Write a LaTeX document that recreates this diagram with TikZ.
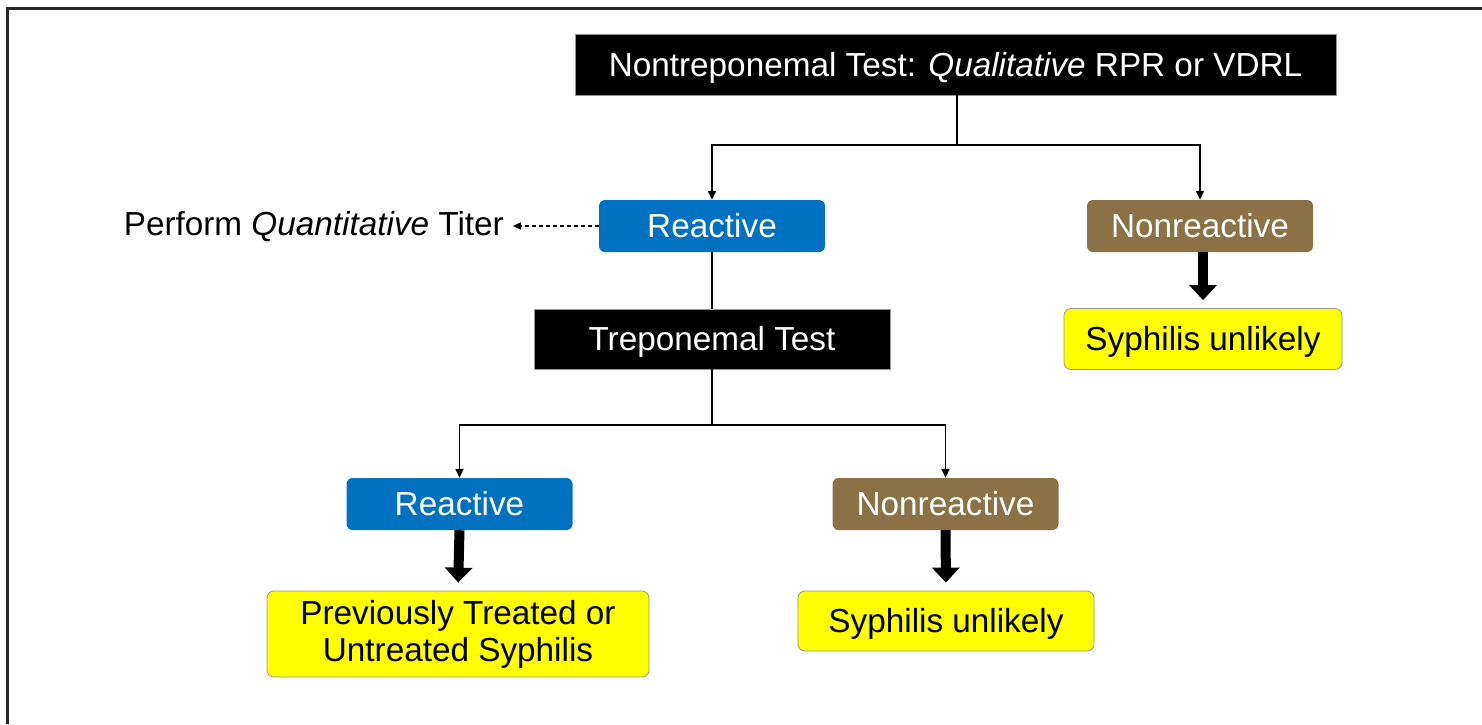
\documentclass[tikz,border=0pt]{standalone}
\usepackage{fontspec}
\setmainfont{Liberation Sans}
\usetikzlibrary{arrows.meta}
\definecolor{boxblue}{RGB}{0,112,192}
\definecolor{boxbrown}{RGB}{139,113,69}
\definecolor{boxyellow}{RGB}{255,255,0}
\definecolor{edgegray}{RGB}{150,150,150}
\tikzset{
  base/.style={inner sep=0pt, font=\fontsize{33.3}{37}\selectfont},
  oneline/.style={text height=30.1pt, text depth=7.1pt},
  blackbox/.style={base, oneline, fill=black, text=white, draw=edgegray, line width=0.6pt},
  bluebox/.style={base, oneline, fill=boxblue, text=white, rounded corners=6pt, minimum width=226pt, minimum height=52pt},
  brownbox/.style={base, oneline, fill=boxbrown, text=white, rounded corners=6pt, minimum width=226pt, minimum height=52pt},
  yellowbox/.style={base, fill=boxyellow, text=black, draw=edgegray, line width=0.8pt, rounded corners=7pt, align=center},
  thinarrow/.style={line width=1.6pt, -{Triangle[length=9pt,width=8pt]}},
  plainline/.style={line width=1.6pt},
  thickarrow/.style={line width=10pt, -{Triangle[length=15pt,width=27pt]}, shorten >=8pt},
  dasharrow/.style={line width=1.6pt, dash pattern=on 4pt off 3pt, -{Triangle[length=8pt,width=7pt]}},
}
\begin{document}
\begin{tikzpicture}[x=1pt,y=-1pt]
\useasboundingbox (0,0) rectangle (1482,724);
\fill[white] (0,0) rectangle (1482,724);
\draw[line width=2.2pt, draw=black!85] (7.5,724) -- (7.5,8.5) -- (1482,8.5);

\node[blackbox, minimum width=761pt, minimum height=61pt] (top) at (955.5,64.5) {Nontreponemal Test: \textit{Qualitative} RPR or VDRL};
\node[bluebox] (r1) at (712,226) {Reactive};
\node[brownbox] (n1) at (1200,226) {Nonreactive};
\node[base, oneline, anchor=east] (titer) at (504,224) {Perform \textit{Quantitative} Titer};
\node[blackbox, minimum width=356pt, minimum height=60pt] (trep) at (712,339) {Treponemal Test};
\node[yellowbox, oneline, minimum width=278pt, minimum height=61pt] (y3) at (1203,339) {Syphilis unlikely};
\node[bluebox] (r2) at (459.5,504) {Reactive};
\node[brownbox] (n2) at (945.5,504) {Nonreactive};
\node[yellowbox, minimum width=382pt, minimum height=86pt] (y1) at (458,634) {Previously Treated or\\Untreated Syphilis};
\node[yellowbox, oneline, minimum width=296pt, minimum height=60pt] (y2) at (946,621) {Syphilis unlikely};

\coordinate (j1) at (957,145);
\coordinate (j2) at (712,425);

\draw[plainline] (top.south -| j1) -- (j1);
\draw[thinarrow] (j1) -| (r1.north);
\draw[thinarrow] (j1) -| (n1.north);
\draw[dasharrow] (r1.west) -- ([xshift=-86pt]r1.west);
\draw[plainline] (r1.south) -- (trep.north);
\draw[plainline] (trep.south -| j2) -- (j2);
\draw[thinarrow] (j2) -| (r2.north);
\draw[thinarrow] (j2) -| (n2.north);
\draw[thickarrow] (n1.south -| y3.north) -- (y3.north);
\draw[thickarrow] (r2.south) -- (y1.north);
\draw[thickarrow] (n2.south) -- (y2.north);
\end{tikzpicture}
\end{document}
